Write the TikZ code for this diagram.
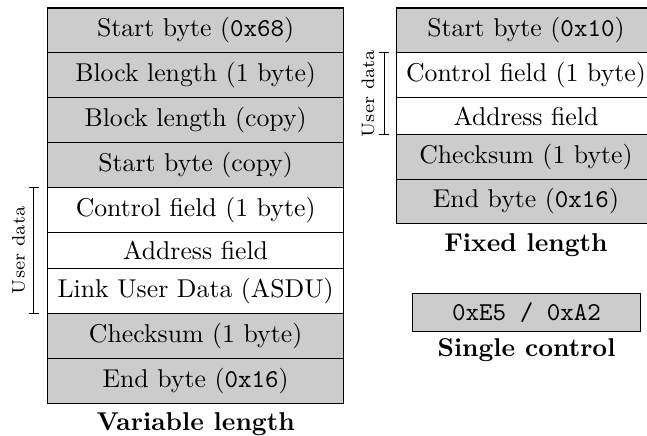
\documentclass[tikz,border=0pt]{standalone}
\usetikzlibrary{calc}
\definecolor{fieldgray}{gray}{0.8}
\begin{document}
\begin{tikzpicture}[x=0.3883pt,y=-0.3883pt,
  field/.style={draw=black, line width=0.4pt, inner sep=0pt, outer sep=0pt, anchor=north west, minimum height=17.4pt},
  framefield/.style={field, fill=fieldgray},
  userfield/.style={field, fill=white},
  shortrow/.style={minimum height=14.25pt},
  leftcol/.style={minimum width=115.2pt},
  rightcol/.style={minimum width=100.4pt},
  caption/.style={font=\bfseries, inner sep=0pt, anchor=base},
  bracket/.style={line width=0.4pt},
  bracketlabel/.style={font=\scriptsize, rotate=90, inner sep=0pt}]
\useasboundingbox (0,0) rectangle (647,436);

% variable length frame
\node[framefield,leftcol] (v1) at (47.3,8) {Start byte (\texttt{0x68})};
\node[framefield,leftcol] (v2) at (v1.south west) {Block length (1 byte)};
\node[framefield,leftcol] (v3) at (v2.south west) {Block length (copy)};
\node[framefield,leftcol] (v4) at (v3.south west) {Start byte (copy)};
\node[userfield,leftcol] (v5) at (v4.south west) {Control field (1 byte)};
\node[userfield,leftcol,shortrow] (v6) at (v5.south west) {Address field};
\node[userfield,leftcol] (v7) at (v6.south west) {Link User Data (ASDU)};
\node[framefield,leftcol] (v8) at (v7.south west) {Checksum (1 byte)};
\node[framefield,leftcol] (v9) at (v8.south west) {End byte (\texttt{0x16})};
\node[caption] (vcap) at ($(v9.south)+(0,27)$) {Variable length};

% user data bracket of the variable length frame
\coordinate (vut) at ([xshift=-5.2pt]v5.north west);
\coordinate (vub) at ([xshift=-5.2pt]v7.south west);
\draw[bracket] ([xshift=-2.1pt]vut) -- ([xshift=2.1pt]vut) (vut) -- (vub)
  ([xshift=-2.1pt]vub) -- ([xshift=2.1pt]vub);
\node[bracketlabel] (vlab) at ([xshift=-6pt]$(vut)!0.5!(vub)$) {User data};

% fixed length frame
\node[framefield,rightcol] (f1) at (396.7,8) {Start byte (\texttt{0x10})};
\node[userfield,rightcol] (f2) at (f1.south west) {Control field (1 byte)};
\node[userfield,rightcol,shortrow] (f3) at (f2.south west) {Address field};
\node[framefield,rightcol] (f4) at (f3.south west) {Checksum (1 byte)};
\node[framefield,rightcol] (f5) at (f4.south west) {End byte (\texttt{0x16})};
\node[caption] (fcap) at ($(f5.south)+(0,28)$) {Fixed length};

% user data bracket of the fixed length frame
\coordinate (fut) at ([xshift=-4.9pt]f2.north west);
\coordinate (fub) at ([xshift=-4.9pt]f3.south west);
\draw[bracket] ([xshift=-2.1pt]fut) -- ([xshift=2.1pt]fut) (fut) -- (fub)
  ([xshift=-2.1pt]fub) -- ([xshift=2.1pt]fub);
\node[bracketlabel] (flab) at ([xshift=-6.2pt]$(fut)!0.5!(fub)$) {User data};

% single control character
\node[field, fill=fieldgray, anchor=north west, minimum width=88.7pt, minimum height=14.7pt] (s1) at (412.3,293.3) {\texttt{0xE5 / 0xA2}};
\node[caption] (scap) at ($(s1.south)+(0,25)$) {Single control};
\end{tikzpicture}
\end{document}
